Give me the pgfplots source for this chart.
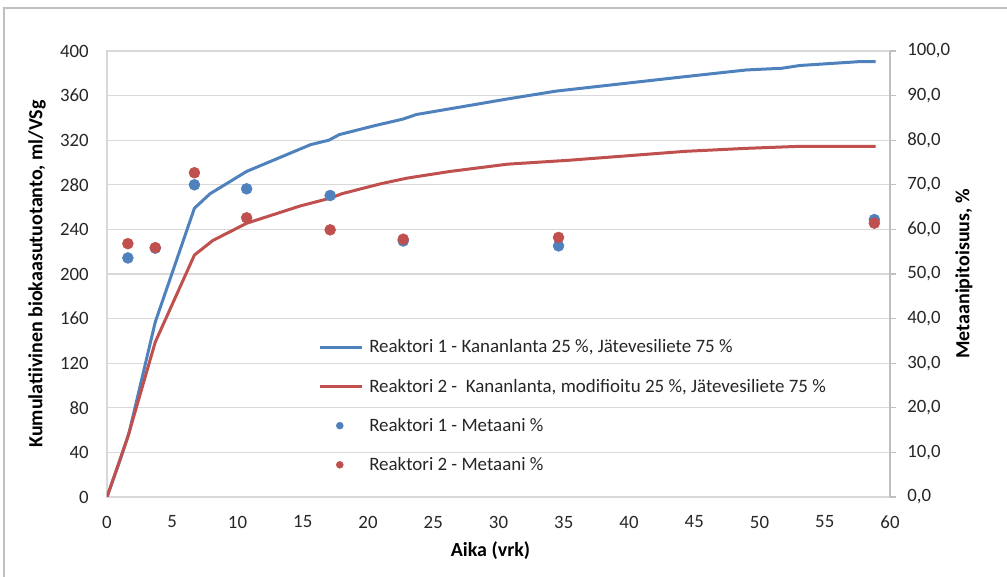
\documentclass[border=0pt]{standalone}
\usepackage{pgfplots}
\pgfplotsset{compat=1.18}
\usepackage{fontspec}
\setmainfont{Carlito}
\definecolor{serblue}{HTML}{4F81BD}
\definecolor{serred}{HTML}{C0504D}
\definecolor{gridc}{HTML}{D9D9D9}
\definecolor{axc}{HTML}{BFBFBF}
\begin{document}
\begin{tikzpicture}
\path[use as bounding box] (0,0) rectangle (755.25pt,432.75pt);
\draw[axc, line width=0.9pt] (3pt,0pt) -- (3pt,426.75pt) -- (755.25pt,426.75pt);
\begin{axis}[
  at={(80.25pt,60pt)}, anchor=south west,
  scale only axis, width=587.25pt, height=334.5pt,
  xmin=0, xmax=60, ymin=0, ymax=400,
  xtick={0,5,...,60}, ytick={0,40,...,400},
  axis line style={gridc, line width=0.9pt},
  ymajorgrids, grid style={gridc, line width=0.9pt},
  major tick length=0pt,
  /pgf/number format/assume math mode=true,
  tick label style={font=\fontsize{14.1}{16}\selectfont, text=black!85},
  xticklabel style={anchor=center, yshift=-18.75pt},
  yticklabel style={anchor=east, inner sep=0pt, xshift=-13.5pt},
  every axis y label/.style={at={(axis description cs:0,0.5)}, xshift=-52.5pt, anchor=center, rotate=90},
  every axis x label/.style={at={(axis description cs:0.5,0)}, yshift=-40.5pt, xshift=-6pt, anchor=center},
  label style={font=\bfseries\fontsize{15}{17}\selectfont},
  xlabel={Aika (vrk)},
  ylabel={Kumulatiivinen biokaasutuotanto, ml/VSg},
]
\addplot[serblue, line width=2.25pt, line join=round] coordinates {
(0,0) (1.0,33) (1.7,58) (3.7,157) (6.7,259) (7.9,272) (10.7,292) (15.6,316)
(17.0,320) (17.8,325) (20.5,333) (22.7,339) (23.7,343) (30.7,357) (34.4,364)
(44.3,377) (49.0,383) (51.7,384.5) (53.1,387) (57.7,390.5) (58.9,390.5)};
\addplot[serred, line width=2.25pt, line join=round] coordinates {
(0,0) (1.6,54) (3.7,139) (6.7,217) (8.1,230) (10.7,245.5) (14.8,261) (17.1,268)
(18.0,272) (21.0,281) (23.0,286) (26.3,292) (30.7,298.5) (35.4,302) (44.3,310)
(49.0,312.7) (53.1,314.5) (58.9,314.5)};
\end{axis}
\begin{axis}[
  at={(80.25pt,60pt)}, anchor=south west,
  scale only axis, width=587.25pt, height=334.5pt,
  xmin=0, xmax=60, ymin=0, ymax=100,
  axis x line=none,
  axis y line*=right,
  axis line style={axc, line width=0.9pt},
  ytick={0,10,...,100},
  major tick length=4.5pt, tick align=outside,
  tick style={axc, line width=0.9pt},
  /pgf/number format/.cd, use comma, fixed, fixed zerofill, precision=1, assume math mode=true,
  /pgfplots/.cd,
  tick label style={font=\fontsize{14.1}{16}\selectfont, text=black!85},
  yticklabel style={anchor=west, inner sep=0pt, xshift=8.25pt},
  every axis y label/.style={at={(axis description cs:1,0.5)}, xshift=55.5pt, anchor=center, rotate=90},
  ylabel style={font=\bfseries\fontsize{15}{17}\selectfont},
  ylabel={Metaanipitoisuus, \%},
  legend style={at={(axis description cs:0.2695,0.359)}, anchor=north west, draw=none, fill=none,
    inner sep=0pt, row sep=14pt, font=\fontsize{14.2}{16}\selectfont, text=black!85,
    nodes={inner xsep=4.5pt}},
  legend cell align=left,
]
\addlegendimage{legend image code/.code={\path[draw=none,fill=none] (0pt,-5pt) rectangle (31.5pt,5pt); \draw[serblue, line width=2.25pt] (0pt,0pt) -- (31.5pt,0pt);}}
\addlegendentry{Reaktori 1 - Kananlanta 25 \%, Jätevesiliete 75 \%}
\addlegendimage{legend image code/.code={\path[draw=none,fill=none] (0pt,-5pt) rectangle (31.5pt,5pt); \draw[serred, line width=2.25pt] (0pt,0pt) -- (31.5pt,0pt);}}
\addlegendentry{Reaktori 2 -\ \ Kananlanta, modifioitu 25 \%, Jätevesiliete 75 \%}
\addplot[only marks, mark=*, mark size=4.1pt, serblue, mark options={draw=serblue, fill=serblue},
  legend image code/.code={\path[draw=none,fill=none] (0pt,-5pt) rectangle (31.5pt,5pt); \fill[serblue] (15pt,0pt) circle (2.6pt);}] coordinates {
(1.6,53.6) (3.7,55.8) (6.7,70.0) (10.7,69.1) (17.1,67.6) (22.7,57.4) (34.6,56.3) (58.8,62.2)};
\addlegendentry{Reaktori 1 - Metaani \%}
\addplot[only marks, mark=*, mark size=4.1pt, serred, mark options={draw=serred, fill=serred},
  legend image code/.code={\path[draw=none,fill=none] (0pt,-5pt) rectangle (31.5pt,5pt); \fill[serred] (15pt,0pt) circle (2.6pt);}] coordinates {
(1.6,56.8) (3.7,55.9) (6.7,72.7) (10.7,62.6) (17.1,59.9) (22.7,57.8) (34.6,58.2) (58.8,61.4)};
\addlegendentry{Reaktori 2 - Metaani \%}
\end{axis}
\end{tikzpicture}
\end{document}
